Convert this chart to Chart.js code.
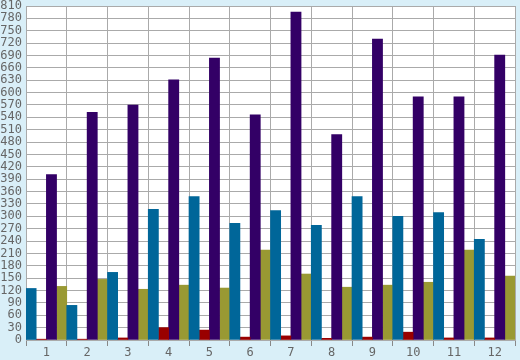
<!DOCTYPE html>
<html><head><meta charset="utf-8">
<script src="https://cdn.jsdelivr.net/npm/chart.js@4/dist/chart.umd.min.js"></script>
<style>html,body{margin:0;padding:0;background:#D9EFF8;}#c{display:block;}</style>
</head><body>
<canvas id="c" width="520" height="360"></canvas>
<script>
const categories = ['1','2','3','4','5','6','7','8','9','10','11','12'];
const seriesBlue   = [125, 84, 164, 317, 348, 283, 314, 278, 348, 300, 309, 244];
const seriesRed    = [2, 2, 5, 30, 24, 7, 10, 4, 7, 19, 5, 5];
const seriesPurple = [401, 552, 570, 631, 684, 546, 795, 498, 730, 590, 590, 691];
const seriesOlive  = [130, 147, 123, 133, 126, 218, 160, 128, 133, 140, 218, 155];
const yMin = 0, yMax = 810, yStep = 30;

const bgPlugin = {
  id: 'bg',
  beforeDraw(chart) {
    const {ctx, chartArea: a} = chart;
    ctx.save();
    ctx.fillStyle = '#D9EFF8';
    ctx.fillRect(0, 0, chart.width, chart.height);
    ctx.fillStyle = '#FFFFFF';
    ctx.fillRect(a.left, a.top, a.right - a.left, a.bottom - a.top);
    ctx.restore();
  }
};

const font = {family: '"DejaVu Sans Mono", monospace', size: 12};
new Chart(document.getElementById('c'), {
  type: 'bar',
  data: {
    labels: categories,
    datasets: [
      {data: seriesBlue, backgroundColor: '#006699'},
      {data: seriesRed, backgroundColor: '#990000'},
      {data: seriesPurple, backgroundColor: '#330066'},
      {data: seriesOlive, backgroundColor: '#999933'}
    ]
  },
  options: {
    responsive: false,
    animation: false,
    layout: {padding: {top: 6, right: 5, left: 0, bottom: 0}},
    plugins: {legend: {display: false}, tooltip: {enabled: false}},
    datasets: {bar: {barPercentage: 1, categoryPercentage: 1, borderWidth: 0}},
    scales: {
      x: {
        grid: {color: '#AAAAAA', offset: true, drawTicks: true, tickLength: 6, tickColor: '#888888'},
        border: {color: '#AAAAAA'},
        ticks: {font: font, color: '#666666', padding: 0, maxRotation: 0},
        afterFit(s) { s.height = 20; s.paddingLeft = 0; s.paddingRight = 0; }
      },
      y: {
        min: yMin, max: yMax,
        grid: {color: '#AAAAAA', drawTicks: false},
        border: {color: '#AAAAAA'},
        ticks: {stepSize: yStep, font: font, color: '#666666', padding: 4, autoSkip: false},
        afterFit(s) { s.width = 26; s.paddingTop = 0; s.paddingBottom = 0; }
      }
    }
  },
  plugins: [bgPlugin]
});
</script>
</body></html>
